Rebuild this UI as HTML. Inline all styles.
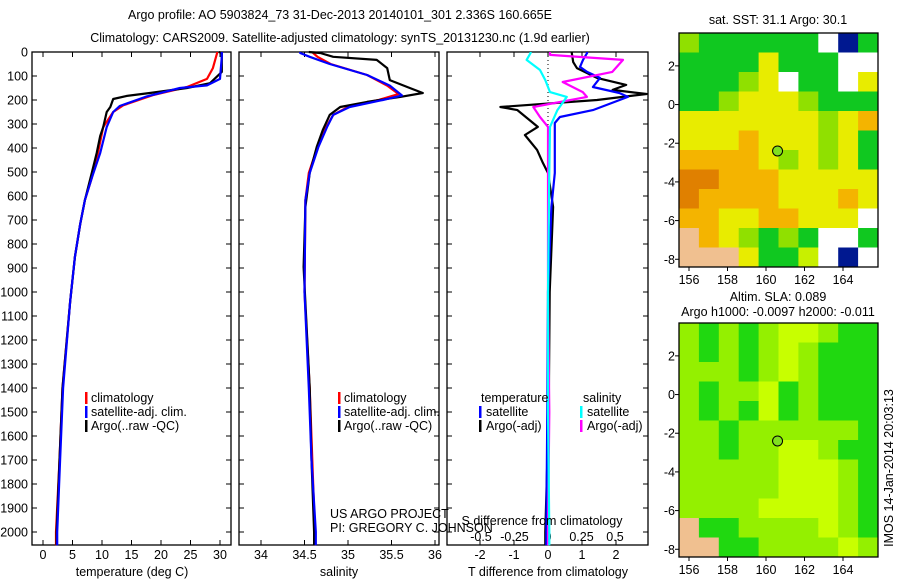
<!DOCTYPE html>
<html><head><meta charset="utf-8">
<style>
body{margin:0;background:#fff;}
svg text{font-family:"Liberation Sans",sans-serif;font-size:12.5px;fill:#000;}
</style></head>
<body>
<svg id="c" width="900" height="580" xmlns="http://www.w3.org/2000/svg">
<text x="340" y="19" text-anchor="middle" font-size="13">Argo profile: AO 5903824_73 31-Dec-2013 20140101_301 2.336S 160.665E</text>
<text x="340" y="42" text-anchor="middle" font-size="13">Climatology: CARS2009. Satellite-adjusted climatology: synTS_20131230.nc (1.9d earlier)</text>
<g id="g"></g>
</svg>
<script>
// depth levels (m)
const tDepthBlack=[0,4,42,83,130,150,171,183,196,229,250,313,350,421,500,617,717,854,1042,1400,1700,2000,2055];
const tempArgo=[29.8,30.3,30.3,30.3,28.3,24.4,18.1,14.2,11.9,11.4,10.8,10.2,9.7,9.1,8.3,7.1,6.3,5.4,4.6,3.3,2.8,2.3,2.3];
const tDepthBlue=[0,20,112,139,150,185,225,250,313,421,522,617,717,854,1042,1400,1700,2000,2055];
const tempSat=[30.3,30.3,30.0,27.8,23.2,17.6,13.0,11.9,10.8,9.7,8.3,7.1,6.3,5.4,4.6,3.4,2.9,2.4,2.4];
const tDepthRed=[0,4,67,112,146,180,222,250,313,421,522,617,717,854,1042,1400,1700,2000,2055];
const tempClim=[29.5,29.5,28.8,27.8,24.4,18.6,13.6,11.9,10.2,9.3,8.3,7.1,6.3,5.4,4.6,3.3,2.8,2.2,2.2];

const sDepthBlack=[0,4,20,33,67,117,150,171,187,208,229,262,325,396,504,646,896,1400,1700,2000,2055];
const salArgo=[34.55,34.68,34.83,35.33,35.45,35.48,35.71,35.86,35.6,35.22,34.91,34.79,34.71,34.64,34.56,34.51,34.49,34.56,34.58,34.61,34.61];
const sDepthBlue=[0,4,20,50,96,140,181,200,229,262,312,396,504,617,1000,1400,1700,2000,2055];
const salSat=[34.45,34.45,34.56,34.79,35.22,35.48,35.62,35.40,35.02,34.83,34.76,34.66,34.56,34.51,34.5,34.55,34.58,34.63,34.63];
const sDepthRed=[0,4,20,50,96,140,175,200,229,262,312,396,504,617,1000,1400,1700,2000,2055];
const salClim=[34.6,34.6,34.65,34.8,35.22,35.45,35.58,35.35,35.0,34.83,34.75,34.65,34.55,34.51,34.5,34.56,34.59,34.62,34.62];

const dDepthBlueT=[0,4,33,62,83,108,146,171,187,242,271,296,504,646,1000,1500,2000,2055];
const tDiffSat=[1.15,1.15,1.03,0.94,1.15,1.53,1.32,2.1,2.35,1.32,0.35,0.2,0.2,0.1,0.0,-0.02,-0.05,-0.05];
const dDepthBlackT=[0,4,42,67,108,137,158,175,200,229,242,312,346,408,462,504,646,1000,1500,2000,2055];
const tDiffArgo=[0.7,0.7,0.74,0.85,1.44,2.3,1.9,2.9,1.44,-1.4,-0.9,-0.3,-0.68,-0.32,-0.15,0.0,0.15,0.05,0.02,-0.08,-0.08];
const dDepthCyan=[0,4,33,75,117,167,187,242,312,500,1000,1500,2000,2055];
const sDiffSat=[-0.13,-0.13,-0.16,-0.06,-0.02,0.015,0.14,0.07,0.015,0.01,0.0,0.0,0.01,0.01];
const dDepthMag=[0,12,33,83,125,167,187,229,271,312,500,1000,1500,2000,2055];
const sDiffArgo=[0.015,0.015,0.56,0.48,0.11,0.26,0.29,-0.11,-0.06,0.0,0.0,0.0,0.01,0.0,0.0];

const depthTicks=[0,100,200,300,400,500,600,700,800,900,1000,1100,1200,1300,1400,1500,1600,1700,1800,1900,2000];
const tempTicks=[0,5,10,15,20,25,30];
const salTicks=[34,34.5,35,35.5,36];
const tDiffTicks=[-2,-1,0,1,2];
const sDiffTicks=[-0.5,-0.25,0,0.25,0.5];
const latTicks=[2,0,-2,-4,-6,-8];
const lonTicks=[156,158,160,162,164];

const NS='http://www.w3.org/2000/svg';
const G=document.getElementById('g');
function el(tag,attrs,parent){const e=document.createElementNS(NS,tag);for(const k in attrs)e.setAttribute(k,attrs[k]);(parent||G).appendChild(e);return e;}
const yD=d=>52+d*0.24;
const xT=t=>43+t*5.9;
const xS=s=>261+(s-34)*87;
const xTd=t=>548+t*34;
const xSd=s=>548+s*134;

const panels=[[32,231],[239,439],[447,648]];
panels.forEach((p,i)=>{
  const r=el('rect',{x:p[0],y:52,width:p[1]-p[0],height:493,fill:'none',stroke:'#000','stroke-width':1.3});
  
  
  depthTicks.forEach(d=>{
    const t1=el('line',{x1:p[0],x2:p[0]+5,y1:yD(d),y2:yD(d),stroke:'#000'});
    
    
    const t2=el('line',{x1:p[1]-5,x2:p[1],y1:yD(d),y2:yD(d),stroke:'#000'});
    
    
  });
});
depthTicks.forEach(d=>{
  const t=el('text',{x:28,y:yD(d)+4.5,'text-anchor':'end'});t.textContent=d;
  
  
});
function xticks(ticks,fx,p,yLab){
  ticks.forEach(v=>{
    const a=el('line',{x1:fx(v),x2:fx(v),y1:545,y2:540,stroke:'#000'});
    
    
    const b=el('line',{x1:fx(v),x2:fx(v),y1:52,y2:57,stroke:'#000'});
    
    
    const t=el('text',{x:fx(v),y:yLab,'text-anchor':'middle'});t.textContent=v;
    
    
  });
}
xticks(tempTicks,xT,panels[0],559);
xticks(salTicks,xS,panels[1],559);
xticks(tDiffTicks,xTd,panels[2],559);
sDiffTicks.forEach(v=>{
  const t=el('text',{x:xSd(v),y:541,'text-anchor':'middle'});t.textContent=v;
  
  
});
const zl=el('line',{x1:548,x2:548,y1:52,y2:545,stroke:'#000','stroke-dasharray':'1,3'});



function line(ds,vs,fx,color,name,w){
  const pts=ds.map((d,i)=>fx(vs[i]).toFixed(1)+','+yD(d).toFixed(1)).join(' ');
  const l=el('polyline',{points:pts,fill:'none',stroke:color,'stroke-width':w||2.2,'stroke-linejoin':'round'});
  
  
}
line(tDepthRed,tempClim,xT,'#f00','temp-climatology-line');
line(tDepthBlack,tempArgo,xT,'#000','temp-argo-line');
line(tDepthBlue,tempSat,xT,'#00f','temp-satellite-line');
line(sDepthRed,salClim,xS,'#f00','sal-climatology-line');
line(sDepthBlack,salArgo,xS,'#000','sal-argo-line');
line(sDepthBlue,salSat,xS,'#00f','sal-satellite-line');
line(dDepthBlackT,tDiffArgo,xTd,'#000','tdiff-argo-line');
line(dDepthBlueT,tDiffSat,xTd,'#00f','tdiff-satellite-line');
line(dDepthMag,sDiffArgo,xSd,'#f0f','sdiff-argo-line');
line(dDepthCyan,sDiffSat,xSd,'#0ff','sdiff-satellite-line');

function txt(x,y,s,name,extra){const t=el('text',Object.assign({x:x,y:y},extra||{}));t.textContent=s;
  
  return t;}
function bar(x,y,c){const b=el('rect',{x:x,y:y-10,width:2.5,height:12,fill:c});
  
  }
txt(132,576,'temperature (deg C)','x-axis-title-temp',{'text-anchor':'middle'});
txt(339,576,'salinity','x-axis-title-salinity',{'text-anchor':'middle'});
txt(548,576,'T difference from climatology','x-axis-title-tdiff',{'text-anchor':'middle'});
txt(542,525,'S difference from climatology','s-diff-axis-title',{'text-anchor':'middle'});
[[85,91],[338,344]].forEach(([bx,tx])=>{
  bar(bx,402,'#f00');txt(tx,402,'climatology','legend-entry');
  bar(bx,416,'#00f');txt(tx,416,'satellite-adj. clim.','legend-entry');
  bar(bx,430,'#000');txt(tx,430,'Argo(..raw -QC)','legend-entry');
});
txt(481,402,'temperature','legend-header');txt(583,402,'salinity','legend-header');
bar(479,416,'#00f');txt(486,416,'satellite','legend-entry');
bar(479,430,'#000');txt(486,430,'Argo(-adj)','legend-entry');
bar(580,416,'#0ff');txt(587,416,'satellite','legend-entry');
bar(580,430,'#f0f');txt(587,430,'Argo(-adj)','legend-entry');
txt(330,518,'US ARGO PROJECT','project-credit');
txt(330,532,'PI: GREGORY C. JOHNSON','pi-credit');

// maps
const topGrid=["gGGGGGGWBG","GGGGyGGGWW","GGGgyWGGWy","GGgyyygGGG","yyyyyyygyO","yyyOyyygyG","OOOOygygyG","RROOOyyyyy","ROOOOyyyOy","OOyyOOyyyW","LOygGgGWWG","LLLyGGYWBW"];
const botGrid=["gGgGgyygGG","gGgGgygGGG","gggGgygGGG","gGggyGgGGG","gGgGyGgGGG","ggGggggggGG","ggGggyygGG","gggggyyygG","gggggyyygG","ggggyyyygG","LGGggggygG","LLGGggggygG"];
const topCol={g:'#90e000',G:'#10c820',y:'#e8ec00',O:'#f4b400',R:'#e08000',W:'#fff',B:'#001890',L:'#f0c090',Y:'#c8f000'};
const botCol={g:'#94f000',G:'#20d810',y:'#c8ff00',L:'#f0c090'};
function map(y0,y1,grid,cols,name,t1,t2){
  const x0=679,x1=878;
  const lonX=l=>689+(l-156)*19.25;
  const latY=a=>y0+(3.7-a)*((y1-y0)/12.1);
  const cw=(x1-x0)/10,ch=(y1-y0)/12;
  grid.forEach((row,r)=>{for(let c=0;c<10;c++){
    const cell=el('rect',{x:x0+c*cw,y:y0+r*ch,width:cw+0.5,height:ch+0.5,fill:cols[row[c]]||cols.g});
    
    
  }});
  const b=el('rect',{x:x0,y:y0,width:x1-x0,height:y1-y0,fill:'none',stroke:'#000','stroke-width':1.3});
  
  
  latTicks.forEach(a=>{
    const tk=el('line',{x1:x0-4,x2:x0,y1:latY(a),y2:latY(a),stroke:'#000'});
    
    
    txt(675,latY(a)+4.5,a,'lat-tick-label',{'text-anchor':'end'});
  });
  lonTicks.forEach(l=>{
    const tk=el('line',{x1:lonX(l),x2:lonX(l),y1:y1,y2:y1+4,stroke:'#000'});
    
    
    txt(lonX(l),y1+17,l,'lon-tick-label',{'text-anchor':'middle'});
  });
  const m=el('circle',{cx:lonX(160.6),cy:latY(-2.4),r:5,fill:'#80e020',stroke:'#000'});
  
  
  if(t1)txt(778,y0-t1[1],t1[0],name+'-title',{'text-anchor':'middle'});
  if(t2)txt(778,y0-t2[1],t2[0],name+'-subtitle',{'text-anchor':'middle'});
}
map(33,267,topGrid,topCol,'sst-map',['sat. SST: 31.1 Argo: 30.1',9]);
map(323,557,botGrid,botCol,'sla-map',['Altim. SLA: 0.089',22],['Argo h1000: -0.0097 h2000: -0.011',7]);
txt(0,0,'IMOS 14-Jan-2014 20:03:13','imos-timestamp',{transform:'translate(893,468) rotate(-90)','text-anchor':'middle'});
</script>
</body></html>
